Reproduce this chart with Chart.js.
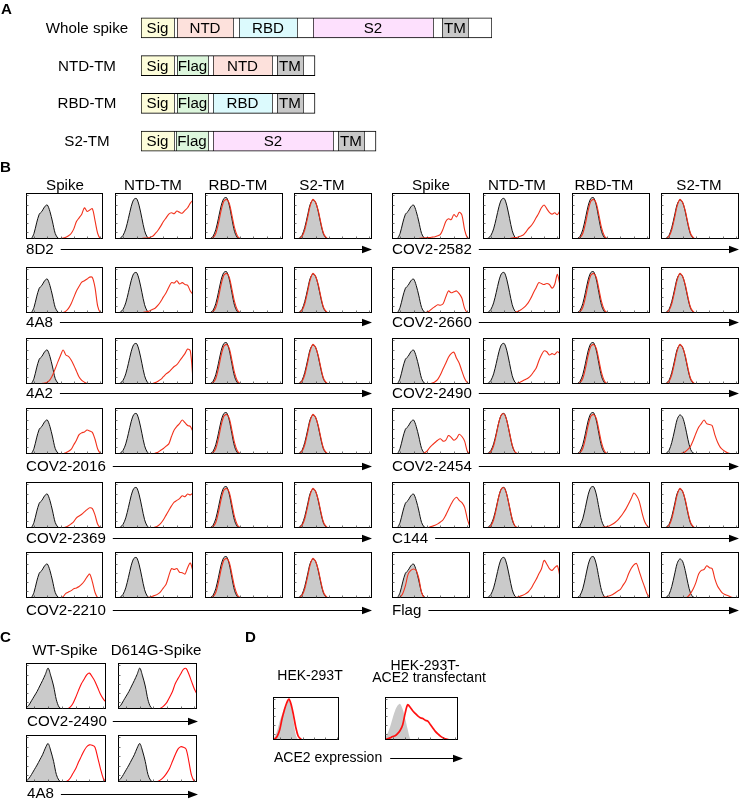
<!DOCTYPE html>
<html><head><meta charset="utf-8">
<script src="https://cdn.jsdelivr.net/npm/chart.js@4.4.1/dist/chart.umd.min.js"></script>
<style>
html,body{margin:0;padding:0;background:#fff}
body{position:relative;width:740px;height:804px;overflow:hidden}
canvas{position:absolute;display:block}
#ov{position:absolute;left:0;top:0;pointer-events:none}
</style></head><body>
<svg id="ov" width="740" height="804" xmlns="http://www.w3.org/2000/svg"></svg>
<script>
// ================= DATA =================
// Panel A: domain diagrams (segment names and lengths, drawing units)
const domainRows = ['Whole spike','NTD-TM','RBD-TM','S2-TM'];
const segLabels = [
  ['Sig','','NTD','','RBD','','S2','','TM',''],
  ['Sig','','Flag','','NTD','','TM',''],
  ['Sig','','Flag','','RBD','','TM',''],
  ['Sig','','Flag','','S2','','TM','']
];
const segLengths = [
  [33,3,56,6,58,16,120,9,26,24],
  [33,3,31,5,59,5,26,12],
  [33,3,31,5,59,5,26,12],
  [33,2,32,5,120,5,26,12]
];

// Panel B categories
const constructs = ['Spike','NTD-TM','RBD-TM','S2-TM'];
const leftAbs = ['8D2','4A8','4A2','COV2-2016','COV2-2369','COV2-2210'];
const rightAbs = ['COV2-2582','COV2-2660','COV2-2490','COV2-2454','C144','Flag'];

// Histogram bins (fluorescence channel, 30 bins), values = % of frame height
const bins = [0,1,2,3,4,5,6,7,8,9,10,11,12,13,14,15,16,17,18,19,20,21,22,23,24,25,26,27,28,29];

// controls (grey)
const ctrlSpike = [0,0,1,12,35,54,60,70,74,60,37,12,2,0,0,0,0,0,0,0,0,0,0,0,0,0,0,0,0,0];
const ctrlNTD   = [0,0,2,8,22,45,70,86,88,72,45,18,4,0,0,0,0,0,0,0,0,0,0,0,0,0,0,0,0,0];
const ctrlRBD   = [0,0,1,6,20,45,72,88,90,74,44,16,3,0,0,0,0,0,0,0,0,0,0,0,0,0,0,0,0,0];
const ctrlS2    = [0,0,2,8,25,50,75,85,80,60,32,10,2,0,0,0,0,0,0,0,0,0,0,0,0,0,0,0,0,0];

// non-binding (overlapping) red curves
const negN  = [0,0,1,5,18,42,70,86,87,72,46,20,5,1,0,0,0,0,0,0,0,0,0,0,0,0,0,0,0,0];
const negR  = [0,0,0,3,12,34,62,82,86,78,52,24,7,1,0,0,0,0,0,0,0,0,0,0,0,0,0,0,0,0];
const negS2 = [0,0,1,6,20,45,72,86,80,62,35,12,3,0,0,0,0,0,0,0,0,0,0,0,0,0,0,0,0,0];

// Spike column red curves
const r8D2S  = [0,0,0,0,0,0,0,0,0,0,0,0,0,1,2,4,7,12,22,38,46,54,68,60,63,66,40,12,1,0];
const r4A8S  = [0,0,0,0,0,0,0,0,0,0,0,0,0,0,1,4,10,20,34,48,58,67,70,74,78,77,55,15,1,0];
const r4A2S  = [0,0,0,0,0,0,1,2,4,9,19,33,48,62,74,63,60,52,41,28,15,8,4,1,0,0,0,0,0,0];
const r2016S = [0,0,0,0,0,0,0,0,0,0,0,0,0,0,0,3,6,10,20,30,42,46,48,52,50,47,32,11,2,0];
const r2369S = [0,0,0,0,0,0,0,0,0,0,0,0,0,0,0,2,5,9,14,22,26,30,35,40,44,42,28,8,1,0];
const r2210S = [0,0,0,0,0,0,0,0,0,0,0,0,0,0,3,10,13,16,20,22,25,30,37,46,52,35,12,1,0,0];
const r2582S = [0,0,0,0,0,0,0,0,0,0,1,2,2,3,3,4,5,7,10,22,38,44,42,53,48,58,52,20,3,0];
const r2660S = [0,0,0,0,0,0,0,0,0,0,0,0,0,2,5,10,14,18,17,20,35,48,44,46,48,42,32,10,1,0];
const r2490S = [0,0,0,0,0,0,0,0,0,0,0,0,0,0,0,2,5,10,20,33,45,58,66,69,56,45,28,12,3,0];
const r2454S = [0,0,0,0,0,0,0,0,0,0,0,0,2,6,14,20,25,30,33,28,30,40,36,30,34,43,38,28,6,0];
const rC144S = [0,0,0,0,0,0,0,0,0,0,0,0,0,0,2,4,6,9,13,18,28,40,52,62,67,60,55,45,20,2];
const rFlagS = [0,0,0,2,10,27,52,60,63,60,42,12,1,0,0,0,0,0,0,0,0,0,0,0,0,0,0,0,0,0];

// NTD-TM column red curves
const r8D2N  = [0,0,0,0,0,0,0,0,0,0,1,2,2,4,6,12,19,28,38,46,54,57,55,61,58,56,62,68,78,84];
const r4A8N  = [0,0,0,0,0,0,0,0,0,1,1,2,3,5,8,11,17,25,35,44,56,66,65,70,63,66,62,60,48,40];
const r4A2N  = [0,0,0,0,0,0,0,0,0,0,0,0,0,0,1,3,6,10,16,22,26,32,38,42,50,58,66,76,72,10];
const r2016N = [0,0,0,0,0,0,0,0,0,0,0,0,0,0,0,2,4,8,12,17,22,38,52,60,66,74,68,62,60,48];
const r2369N = [0,0,0,0,0,0,0,0,0,0,0,0,0,0,0,2,5,10,18,28,38,48,56,60,64,70,68,74,72,76];
const r2210N = [0,0,0,0,0,0,0,0,0,0,0,0,1,2,4,6,9,14,22,30,48,64,62,64,56,55,52,66,76,58];
const r2582N = [0,0,0,0,0,0,0,0,0,0,1,2,3,4,6,8,14,22,28,36,46,56,68,74,66,58,54,57,53,62];
const r2660N = [0,0,0,0,0,0,0,0,0,0,0,0,1,3,6,10,15,22,32,44,55,66,64,62,64,62,54,62,84,60];
const r2490N = [0,0,0,0,0,0,0,0,0,0,0,0,0,2,4,7,10,13,18,26,34,50,63,72,70,63,66,64,70,66];
const rFlagN = [0,0,0,0,0,0,0,0,0,0,0,0,1,2,4,6,9,13,20,30,40,52,63,82,74,64,60,66,70,46];

// RBD-TM column red curves
const rC144R = [0,0,0,0,0,0,0,0,0,0,0,1,2,3,5,8,12,17,24,32,41,52,64,76,70,58,34,14,4,0];
const rFlagR = [0,0,0,0,0,0,0,0,0,0,0,1,2,3,5,7,11,15,19,28,37,52,64,72,75,58,40,24,8,1];

// S2-TM column red curves
const r2454S2 = [0,0,0,0,0,0,0,0,2,5,10,17,30,45,58,66,74,66,64,62,42,26,15,9,5,2,1,0,0,0];
const rFlagS2 = [0,0,0,0,0,0,0,0,0,0,3,10,20,34,52,60,62,70,66,64,42,26,17,10,7,5,2,1,0,0];

// Panel C
const variants = ['WT-Spike','D614G-Spike'];
const abC = ['COV2-2490','4A8'];
const ctrlC1 = [2,8,18,28,38,50,62,75,89,72,50,20,4,0,0,0,0,0,0,0,0,0,0,0,0,0,0,0,0,0];
const ctrlC2 = [2,7,16,26,36,47,58,72,82,66,44,16,3,0,0,0,0,0,0,0,0,0,0,0,0,0,0,0,0,0];
const redC_WT_2490    = [0,0,0,0,0,0,0,0,0,0,0,0,0,0,0,0,4,12,25,40,54,64,74,78,70,60,46,32,22,15];
const redC_D614G_2490 = [0,0,0,0,0,0,0,0,0,0,0,0,0,0,0,0,3,8,15,26,38,55,66,76,86,88,76,60,44,32];
const redC_WT_4A8     = [0,0,0,0,0,0,0,0,0,0,0,0,0,0,0,2,8,18,28,42,54,66,75,79,78,74,52,28,8,0];
const redC_D614G_4A8  = [0,0,0,0,0,0,0,0,0,0,0,0,0,0,0,2,6,12,20,30,44,58,70,75,74,70,44,14,2,0];

// Panel D
const cellsD = ['HEK-293T','HEK-293T-','ACE2 transfectant'];
const ctrlD1 = [2,10,25,45,60,75,85,92,80,45,12,1,0,0,0,0,0,0,0,0,0,0,0,0,0,0,0,0,0,0];
const redD1  = [0,3,10,25,50,70,86,95,82,58,30,10,3,0,0,0,0,0,0,0,0,0,0,0,0,0,0,0,0,0];
const ctrlD2 = [5,15,30,50,68,80,84,72,50,25,3,0,0,0,0,0,0,0,0,0,0,0,0,0,0,0,0,0,0,0];
const redD2  = [2,3,5,8,10,15,22,35,62,82,76,68,62,56,52,50,46,44,36,28,20,14,9,5,3,1,0,0,0,0];

// axis tick positions for histogram frames
const histYTicks = [15,35,55,75,95];
const histXTicks = [3,8,13,18,23,28];

// ================= STYLE / LAYOUT =================
const FONT = '"Liberation Sans", Arial, Helvetica, sans-serif';
const GRAY = '#cacaca';
const RED_B = '#f2321c';
const RED_C = '#ff1010';
const segColor = {Sig:'#fdfdda', NTD:'#fde1dc', RBD:'#dcfafd', S2:'#fde0fd', TM:'#c8c8c8', Flag:'#dcf6dc', '':'#ffffff'};
const FS = 14, SX = 1.08;

Chart.defaults.font.family = FONT;

const NS = 'http://www.w3.org/2000/svg';
const ov = document.getElementById('ov');
function label(str, x, y, o = {}) {
  const sx = o.sx || SX, size = o.size || FS;
  const g = document.createElementNS(NS, 'g');
  g.setAttribute('transform', `translate(${x},${y}) scale(${sx},1)`);
  const t = document.createElementNS(NS, 'text');
  t.setAttribute('x', 0); t.setAttribute('y', 0);
  t.setAttribute('text-anchor', o.anchor || 'start');
  t.setAttribute('font-family', FONT);
  t.setAttribute('font-size', size);
  if (o.bold) t.setAttribute('font-weight', 'bold');
  t.setAttribute('fill', '#000');
  t.textContent = str;
  g.appendChild(t); ov.appendChild(g);
  return t.getComputedTextLength() * sx;
}
function arrow(x1, x2, y) {
  const l = document.createElementNS(NS, 'line');
  l.setAttribute('x1', x1); l.setAttribute('x2', x2 - 7);
  l.setAttribute('y1', y + 0.5); l.setAttribute('y2', y + 0.5);
  l.setAttribute('stroke', '#000'); l.setAttribute('stroke-width', 1.1);
  ov.appendChild(l);
  const p = document.createElementNS(NS, 'polygon');
  p.setAttribute('points', `${x2},${y + 0.5} ${x2 - 10},${y - 3.2} ${x2 - 10},${y + 4.2}`);
  p.setAttribute('fill', '#000');
  ov.appendChild(p);
}

const framePlugin = {
  id: 'frame',
  afterDatasetsDraw(chart) {
    const {ctx, chartArea: a, scales} = chart;
    ctx.save();
    ctx.strokeStyle = '#000';
    ctx.lineWidth = 1;
    ctx.strokeRect(a.left + 0.5, a.top + 0.5, a.width - 1, a.height - 1);
    ctx.lineWidth = 0.7;
    ctx.strokeStyle = '#333';
    ctx.beginPath();
    histYTicks.forEach(v => { const y = Math.round(scales.y.getPixelForValue(v)) + 0.5; ctx.moveTo(a.left, y); ctx.lineTo(a.left + 2.5, y); });
    histXTicks.forEach(v => { const x = Math.round(scales.x.getPixelForValue(v)) + 0.5; ctx.moveTo(x, a.bottom); ctx.lineTo(x, a.bottom - 2.5); });
    ctx.stroke();
    ctx.restore();
  }
};

function histo(x, y, w, h, ctrl, red, st) {
  const c = document.createElement('canvas');
  c.width = w; c.height = h;
  c.style.left = x + 'px'; c.style.top = y + 'px';
  c.style.width = w + 'px'; c.style.height = h + 'px';
  document.body.insertBefore(c, ov);
  new Chart(c, {
    type: 'line',
    data: {
      labels: bins,
      datasets: [
        {data: ctrl, fill: 'origin', backgroundColor: GRAY, borderColor: st.ctrlLine, borderWidth: st.ctrlW,
         pointRadius: 0, tension: 0.3, clip: 0, order: 2},
        {data: red, fill: false, borderColor: st.red, borderWidth: st.redW,
         pointRadius: 0, tension: 0.3, clip: 0, order: 1}
      ]
    },
    options: {
      responsive: false, animation: false, devicePixelRatio: 1, events: [],
      layout: {padding: 0},
      plugins: {legend: {display: false}, tooltip: {enabled: false}},
      scales: {
        x: {display: false, offset: false},
        y: {display: false, min: 0, max: 100}
      }
    },
    plugins: [framePlugin]
  });
}

// ================= PANEL A =================
(function () {
  const c = document.createElement('canvas');
  const W = 355, H = 151;
  c.width = W; c.height = H;
  c.style.left = '139px'; c.style.top = '9px'; c.style.width = W + 'px'; c.style.height = H + 'px';
  document.body.insertBefore(c, ov);
  const nSlots = Math.max(...segLengths.map(r => r.length));
  const datasets = [];
  for (let k = 0; k < nSlots; k++) {
    datasets.push({
      data: segLengths.map(r => (k < r.length ? r[k] : null)),
      backgroundColor: segLabels.map(r => segColor[r[k] || '']),
      borderColor: '#000',
      borderWidth: (ctx) => ({top: 1, bottom: 1, left: 1, right: (k === segLengths[ctx.dataIndex].length - 1) ? 1 : 0}),
      borderSkipped: false,
      barThickness: 20,
      segNames: segLabels.map(r => r[k] || '')
    });
  }
  const segText = {
    id: 'segText',
    afterDatasetsDraw(chart) {
      const ctx = chart.ctx;
      ctx.save();
      ctx.fillStyle = '#000';
      ctx.font = FS + 'px ' + FONT;
      ctx.textAlign = 'center';
      ctx.textBaseline = 'alphabetic';
      chart.data.datasets.forEach((ds, di) => {
        chart.getDatasetMeta(di).data.forEach((el, i) => {
          const name = ds.segNames[i];
          if (!name) return;
          const p = el.getProps(['x', 'y', 'base'], true);
          ctx.save();
          ctx.translate((p.x + p.base) / 2, p.y + 5);
          ctx.scale(SX, 1);
          ctx.fillText(name, 0, 0);
          ctx.restore();
        });
      });
      ctx.restore();
    }
  };
  new Chart(c, {
    type: 'bar',
    data: {labels: domainRows, datasets},
    options: {
      indexAxis: 'y', responsive: false, animation: false, devicePixelRatio: 1, events: [],
      layout: {padding: {left: 2, right: 2, top: 0, bottom: 0}},
      plugins: {legend: {display: false}, tooltip: {enabled: false}},
      scales: {
        x: {stacked: true, display: false, min: 0, max: 351},
        y: {stacked: true, display: false}
      }
    },
    plugins: [segText]
  });
  const rowBase = [33, 70.6, 108.4, 146.1];
  domainRows.forEach((r, i) => label(r, 87, rowBase[i], {anchor: 'middle'}));
})();

// ================= PANEL B =================
const bCtrl = [ctrlSpike, ctrlNTD, ctrlRBD, ctrlS2];
const bRed = {
  '8D2': [r8D2S, r8D2N, negR, negS2],
  '4A8': [r4A8S, r4A8N, negR, negS2],
  '4A2': [r4A2S, r4A2N, negR, negS2],
  'COV2-2016': [r2016S, r2016N, negR, negS2],
  'COV2-2369': [r2369S, r2369N, negR, negS2],
  'COV2-2210': [r2210S, r2210N, negR, negS2],
  'COV2-2582': [r2582S, r2582N, negR, negS2],
  'COV2-2660': [r2660S, r2660N, negR, negS2],
  'COV2-2490': [r2490S, r2490N, negR, negS2],
  'COV2-2454': [r2454S, negN, negR, r2454S2],
  'C144': [rC144S, negN, rC144R, negS2],
  'Flag': [rFlagS, rFlagN, rFlagR, rFlagS2]
};
const groups = [
  {abs: leftAbs, xs: [26, 115, 205, 294], ws: [77, 78, 78, 78], hx: [65, 153, 238, 322], lx: 26, ax: 372},
  {abs: rightAbs, xs: [392, 483, 572, 661], ws: [78, 77, 78, 78], hx: [431, 517, 604, 699], lx: 392, ax: 739}
];
const rowTop = [193, 267, 338, 408, 482, 552];
const rowArrow = [249, 322, 393, 466, 538, 610];
const styleB = {ctrlLine: '#111', ctrlW: 1, red: RED_B, redW: 1.1};
groups.forEach(g => {
  constructs.forEach((cn, ci) => label(cn, g.hx[ci], 190, {anchor: 'middle'}));
  g.abs.forEach((ab, ri) => {
    constructs.forEach((cn, ci) => {
      histo(g.xs[ci], rowTop[ri], g.ws[ci], 46, bCtrl[ci], bRed[ab][ci], styleB);
    });
    const w = label(ab, g.lx, rowArrow[ri] + 5);
    arrow(g.lx + w + 7, g.ax, rowArrow[ri]);
  });
});

// ================= PANEL C =================
const styleC = {ctrlLine: '#111', ctrlW: 1, red: RED_C, redW: 1.1};
label(variants[0], 65, 655, {anchor: 'middle'});
label(variants[1], 156, 655, {anchor: 'middle'});
histo(26, 663, 80, 46, ctrlC1, redC_WT_2490, styleC);
histo(118, 663, 79, 46, ctrlC1, redC_D614G_2490, styleC);
histo(26, 735, 80, 47, ctrlC2, redC_WT_4A8, styleC);
histo(118, 735, 79, 47, ctrlC2, redC_D614G_4A8, styleC);
{
  const w1 = label(abC[0], 27, 726);
  arrow(27 + w1 + 6, 198, 721);
  const w2 = label(abC[1], 27, 798);
  arrow(27 + w2 + 7, 198, 794);
}

// ================= PANEL D =================
const styleD = {ctrlLine: 'rgba(0,0,0,0)', ctrlW: 0, red: RED_C, redW: 1.7};
label(cellsD[0], 310, 680, {anchor: 'middle', sx: 1.0});
label(cellsD[1], 425, 670, {anchor: 'middle', sx: 1.0});
label(cellsD[2], 429, 682, {anchor: 'middle', sx: 1.0});
histo(273, 697, 66, 43, ctrlD1, redD1, styleD);
histo(385, 697, 73, 43, ctrlD2, redD2, styleD);
{
  const w = label('ACE2 expression', 274, 762, {sx: 1.0});
  arrow(274 + w + 8, 463, 758);
}

// ================= PANEL LETTERS =================
label('A', 1, 13.5, {bold: true});
label('B', 0, 171.5, {bold: true});
label('C', 0, 641.5, {bold: true});
label('D', 245, 641.5, {bold: true});
</script>
</body></html>
